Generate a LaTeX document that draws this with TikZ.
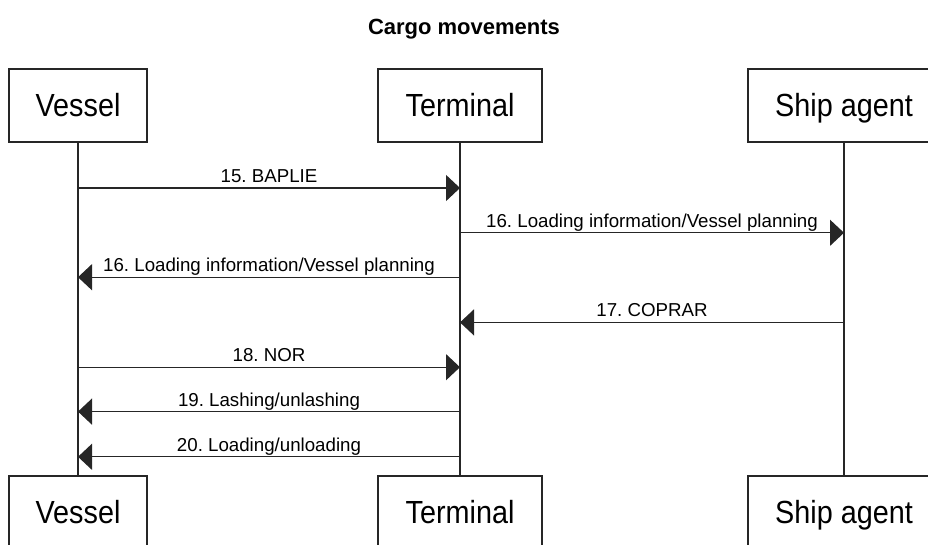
\documentclass[tikz,border=0pt]{standalone}
\usepackage{fontspec}
\setmainfont{Liberation Sans}
\newfontfamily\actorfont[FakeStretch=0.9]{Liberation Sans}
\usetikzlibrary{arrows.meta}

\definecolor{ink}{HTML}{262626}

\tikzset{
  actor/.style={draw=ink, line width=1.3pt, fill=white,
    minimum width=#1, minimum height=73pt, inner sep=0pt,
    font=\actorfont\fontsize{32}{36}\selectfont, text height=22.9pt, text depth=0pt},
  lifeline/.style={draw=ink, line width=1.3pt},
  msg/.style={draw=ink, line width=1.3pt,
    -{Triangle[length=14pt, width=26pt]}},
  lab/.style={midway, anchor=base, yshift=5.5pt, inner sep=0pt,
    font=\fontsize{18.7}{22}\selectfont},
  heading/.style={anchor=base, inner sep=0pt,
    font=\bfseries\fontsize{22}{26}\selectfont}
}

\begin{document}
\frenchspacing
\begin{tikzpicture}[x=1pt, y=-1pt]
  \useasboundingbox (0,0) rectangle (928,544);
  \clip (0,0) rectangle (928,544);

  % title
  \node[heading] (title) at (464,34) {Cargo movements};

  % participants, top and bottom
  \node[actor=138pt] (vesT) at (78,105.5)  {Vessel};
  \node[actor=164pt] (terT) at (460,105.5) {Terminal};
  \node[actor=192pt] (agtT) at (844,105.5) {Ship agent};
  \node[actor=138pt] (vesB) at (78,512.5)  {Vessel};
  \node[actor=164pt] (terB) at (460,512.5) {Terminal};
  \node[actor=192pt] (agtB) at (844,512.5) {Ship agent};

  % lifelines
  \draw[lifeline] (vesT.south) -- (vesB.north);
  \draw[lifeline] (terT.south) -- (terB.north);
  \draw[lifeline] (agtT.south) -- (agtB.north);

  % message rows
  \coordinate (r15)  at (0,188);
  \coordinate (r16a) at (0,232.8);
  \coordinate (r16b) at (0,277.2);
  \coordinate (r17)  at (0,322.4);
  \coordinate (r18)  at (0,367.2);
  \coordinate (r19)  at (0,411.6);
  \coordinate (r20)  at (0,456.8);

  % messages
  \draw[msg] (vesT |- r15)  -- node[lab] {15. BAPLIE} (terT |- r15);
  \draw[msg] (terT |- r16a) -- node[lab] {16. Loading information/Vessel planning} (agtT |- r16a);
  \draw[msg] (terT |- r16b) -- node[lab] {16. Loading information/Vessel planning} (vesT |- r16b);
  \draw[msg] (agtT |- r17)  -- node[lab] {17. COPRAR} (terT |- r17);
  \draw[msg] (vesT |- r18)  -- node[lab] {18. NOR} (terT |- r18);
  \draw[msg] (terT |- r19)  -- node[lab] {19. Lashing/unlashing} (vesT |- r19);
  \draw[msg] (terT |- r20)  -- node[lab] {20. Loading/unloading} (vesT |- r20);
\end{tikzpicture}
\end{document}
